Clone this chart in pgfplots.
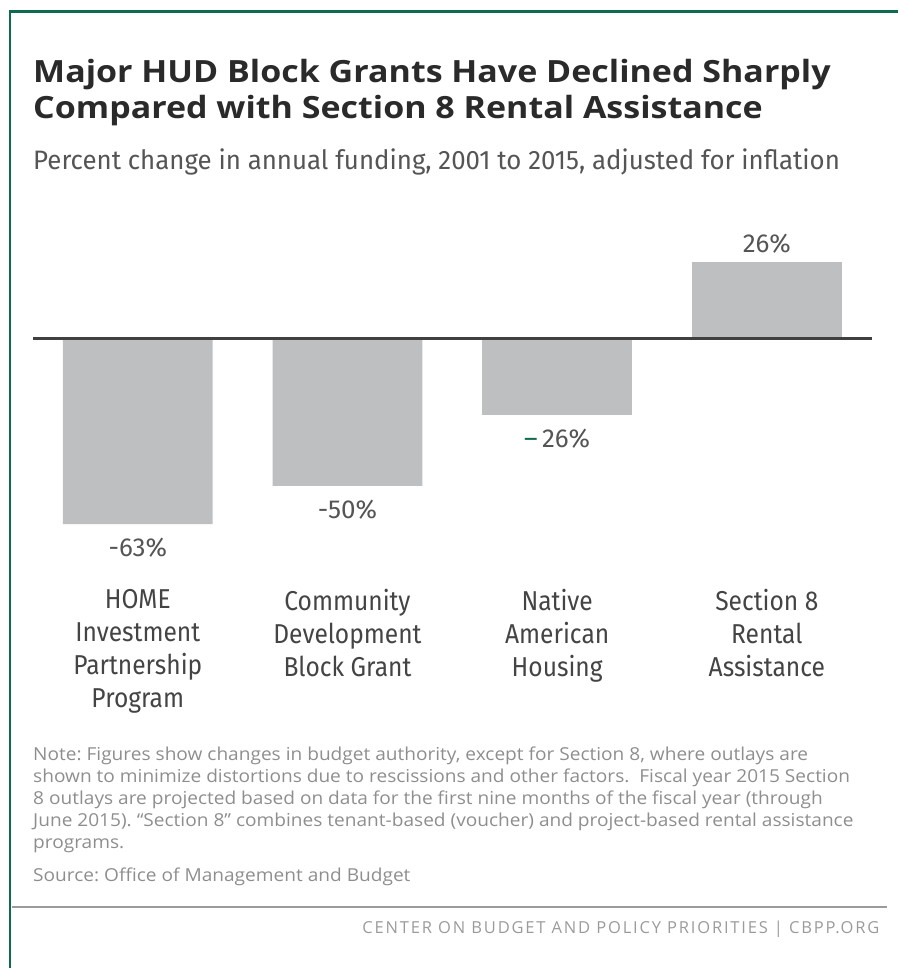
\documentclass[border=0pt]{standalone}
\usepackage{pgfplots}
\pgfplotsset{compat=1.18}
\usepackage{pgfplotstable}
\usepackage{fontspec}
\setmainfont{Open Sans}
\newfontfamily\titlefont{Open Sans}[FakeStretch=1.11]
\newfontfamily\subfont{Fira Sans}[FakeStretch=0.97]
\newfontfamily\condfont{Fira Sans}[FakeStretch=0.9]
\newfontfamily\valfont{Fira Sans}
\newfontfamily\notefont{Open Sans}[FakeStretch=1.07]
\newfontfamily\footfont{Open Sans}[LetterSpace=11]

\definecolor{framec}{HTML}{0E6B4F}
\definecolor{titlec}{HTML}{2A2A2A}
\definecolor{subc}{HTML}{555555}
\definecolor{catc}{HTML}{444444}
\definecolor{valc}{HTML}{555555}
\definecolor{notec}{HTML}{8E8E8E}
\definecolor{footc}{HTML}{9B9B9B}
\definecolor{barc}{HTML}{BEBFC1}
\definecolor{zeroc}{HTML}{404040}

% percent change, 2001 to 2015
\pgfplotstableread{
x y lbl
0 -63 -63
1 -50 -50
}\declines

\begin{document}
\frenchspacing
\begin{tikzpicture}
\begin{scope}[x=0.75pt,y=-0.75pt]
  \path (0,0) rectangle (899,969);
  \draw[framec, line width=2.2pt] (10,969) -- (10,11.5) -- (899,11.5);
  \node[anchor=base west, inner sep=0pt, text=titlec, font=\titlefont\fontsize{23}{27}\selectfont\bfseries] at (33,83) {Major HUD Block Grants Have Declined Sharply};
  \node[anchor=base west, inner sep=0pt, text=titlec, font=\titlefont\fontsize{23}{27}\selectfont\bfseries] at (33,119) {Compared with Section 8 Rental Assistance};
  \node[anchor=base west, inner sep=0pt, text=subc, font=\subfont\fontsize{20}{24}\selectfont] at (33,170) {Percent change in annual funding, 2001 to 2015, adjusted for inflation};

  \begin{scope}[every node/.style={anchor=base west, inner sep=0pt, text=notec, font=\notefont\fontsize{13.4}{16.5}\selectfont}]
    \node at (33,762) {Note: Figures show changes in budget authority, except for Section 8, where outlays are};
    \node at (33,784) {shown to minimize distortions due to rescissions and other factors.\ \ Fiscal year 2015 Section};
    \node at (33,806) {8 outlays are projected based on data for the first nine months of the fiscal year (through};
    \node at (33,828) {June 2015). “Section 8” combines tenant-based (voucher) and project-based rental assistance};
    \node at (33,850) {programs.};
    \node at (33,883) {Source: Office of Management and Budget};
  \end{scope}

  \draw[footc, line width=1.5pt] (12,908) -- (888,908);
  \node[anchor=base east, inner sep=0pt, text=footc, font=\footfont\fontsize{12.4}{14}\selectfont] at (881,935) {CENTER ON BUDGET AND POLICY PRIORITIES | CBPP.ORG};

  \coordinate (sw) at (33,589.75);
\end{scope}

\begin{axis}[
    at={(sw)}, anchor=south west,
    scale only axis,
    width=630pt, height=254.4pt,
    xmin=-0.5, xmax=3.5,
    ymin=-85, ymax=30,
    clip=false,
    axis line style={draw=none},
    ytick=\empty,
    xtick={0,1,2,3},
    major tick length=0pt,
    xticklabels={{HOME\\Investment\\Partnership\\Program},{Community\\Development\\Block Grant},{Native\\American\\Housing},{Section 8\\Rental\\Assistance}},
    xticklabel style={align=center, inner sep=0pt, anchor=north, text=catc, font=\condfont\fontsize{20.5}{24.75}\selectfont},
]
  \addplot[ybar, bar width=0.714, bar shift=0pt, fill=barc, draw=none,
    point meta=explicit symbolic,
    nodes near coords={\pgfplotspointmeta\%},
    every node near coord/.append style={anchor=north, inner sep=0pt, yshift=-10.5pt, text=valc, font=\valfont\fontsize{19.5}{22}\selectfont}]
    table[x=x, y=y, meta=lbl] {\declines};
  \addplot[ybar, bar width=0.714, bar shift=0pt, fill=barc, draw=none,
    nodes near coords={\textcolor{framec}{–}\,26\%},
    every node near coord/.append style={anchor=north, inner sep=0pt, yshift=-10.5pt, text=valc, font=\valfont\fontsize{19.5}{22}\selectfont}]
    coordinates {(2,-26)};
  \addplot[ybar, bar width=0.714, bar shift=0pt, fill=barc, draw=none,
    nodes near coords={26\%},
    every node near coord/.append style={anchor=south, inner sep=0pt, yshift=6pt, text=valc, font=\valfont\fontsize{19.5}{22}\selectfont}]
    coordinates {(3,26)};
  \draw[zeroc, line width=2.25pt] (axis cs:-0.5,0) -- (axis cs:3.5,0);
\end{axis}
\end{tikzpicture}
\end{document}
